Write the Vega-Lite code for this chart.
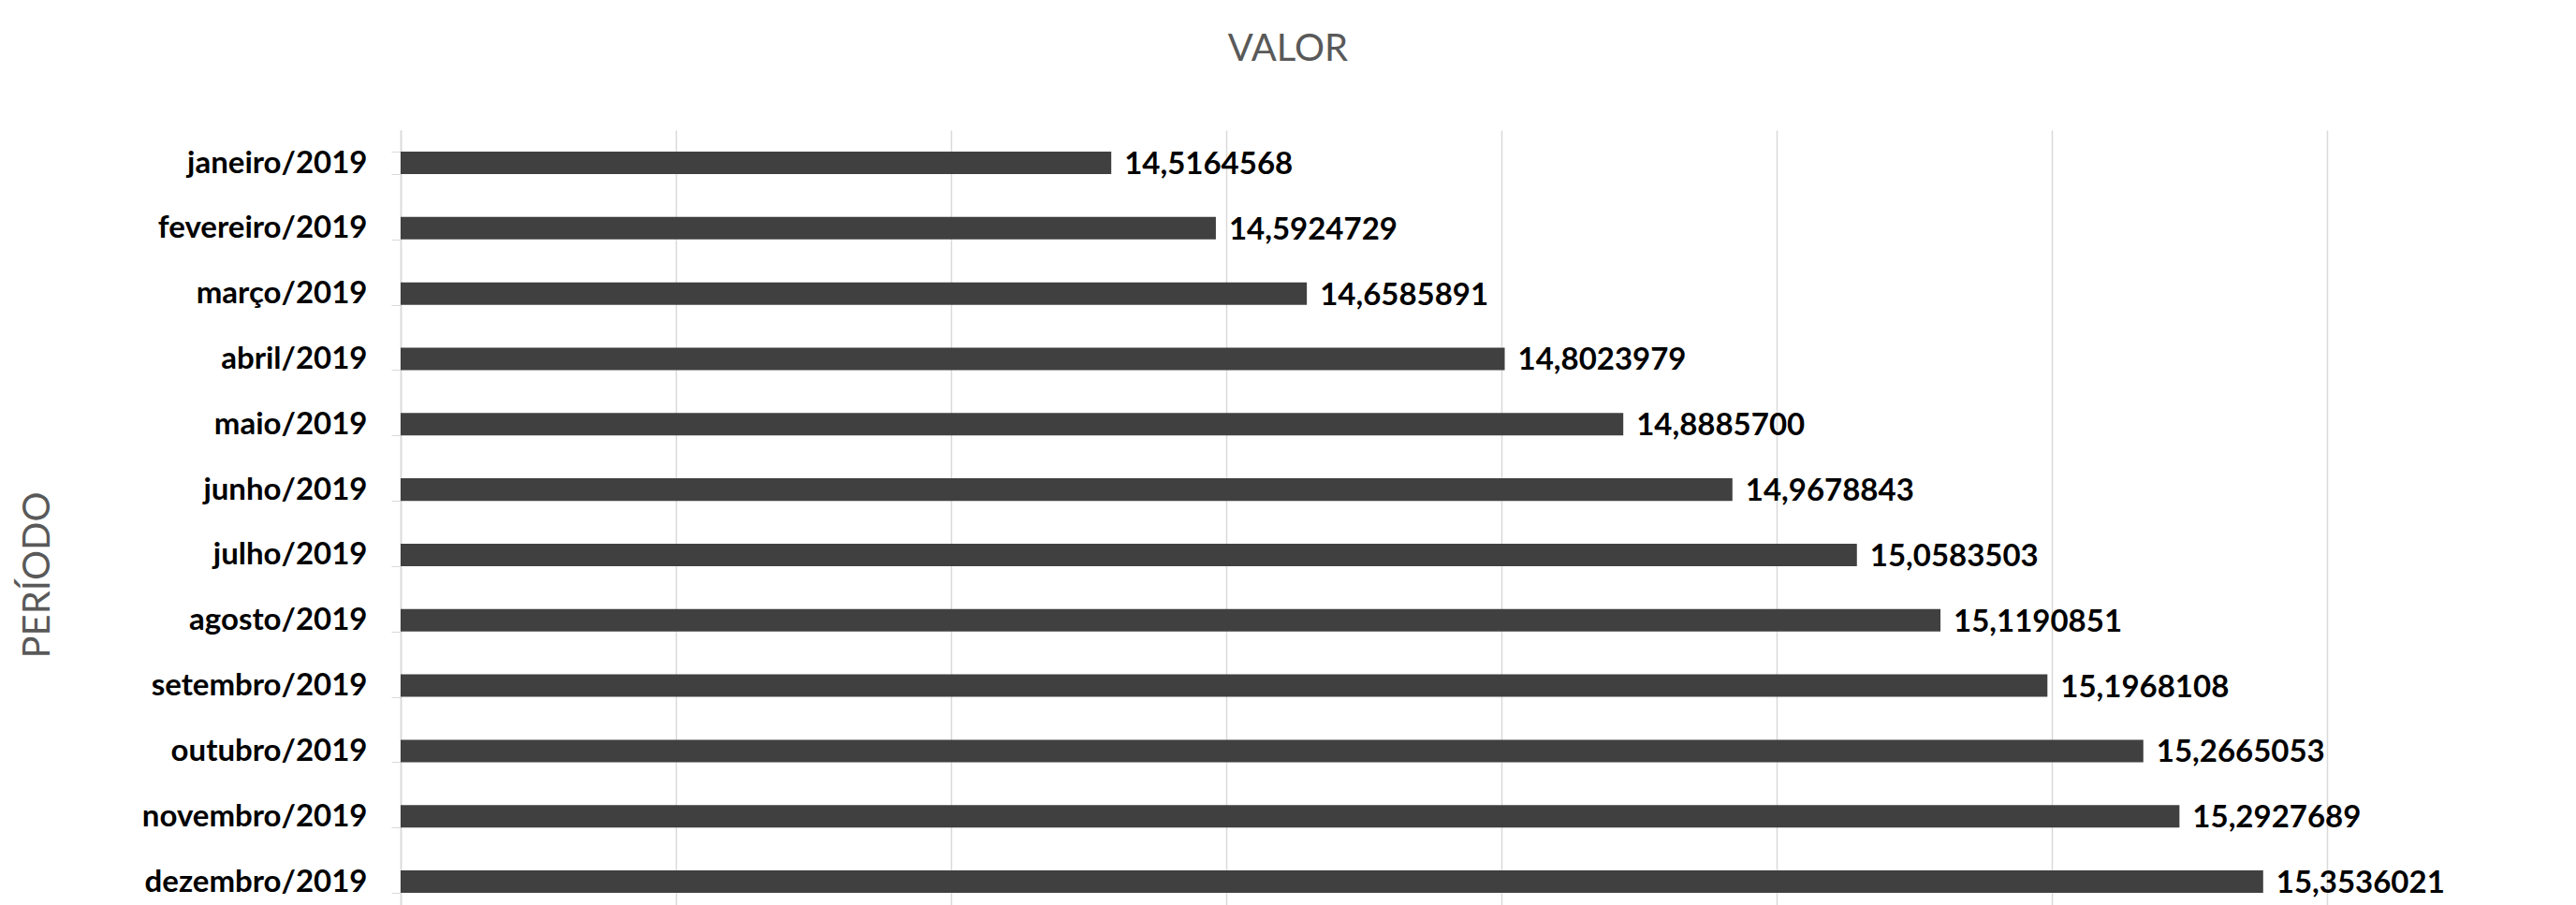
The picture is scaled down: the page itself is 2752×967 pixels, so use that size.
{
  "$schema": "https://vega.github.io/schema/vega-lite/v6.json",
  "width": 2058,
  "height": 828,
  "autosize": {"type": "none"},
  "padding": {"left": 428, "top": 139, "right": 266, "bottom": 0},
  "background": "white",
  "config": {
    "locale": {"number": {"decimal": ",", "thousands": ".", "grouping": [3], "currency": ["R$", ""]}},
    "view": {"stroke": null},
    "font": "Lato"
  },
  "title": {
    "text": "VALOR",
    "font": "Lato",
    "fontSize": 40,
    "fontWeight": "normal",
    "color": "#595959",
    "anchor": "middle",
    "dx": -81,
    "baseline": "alphabetic",
    "offset": 18
  },
  "data": {
    "values": [
      {"periodo": "janeiro/2019", "valor": 14.5164568},
      {"periodo": "fevereiro/2019", "valor": 14.5924729},
      {"periodo": "março/2019", "valor": 14.6585891},
      {"periodo": "abril/2019", "valor": 14.8023979},
      {"periodo": "maio/2019", "valor": 14.88857},
      {"periodo": "junho/2019", "valor": 14.9678843},
      {"periodo": "julho/2019", "valor": 15.0583503},
      {"periodo": "agosto/2019", "valor": 15.1190851},
      {"periodo": "setembro/2019", "valor": 15.1968108},
      {"periodo": "outubro/2019", "valor": 15.2665053},
      {"periodo": "novembro/2019", "valor": 15.2927689},
      {"periodo": "dezembro/2019", "valor": 15.3536021}
    ]
  },
  "encoding": {
    "y": {
      "field": "periodo",
      "type": "nominal",
      "sort": null,
      "scale": {"paddingInner": 0.656, "paddingOuter": 0.2575, "align": 0.64},
      "axis": {
        "title": "PERÍODO",
        "titleFont": "Lato",
        "titleFontSize": 40,
        "titleFontWeight": "normal",
        "titleColor": "#595959",
        "titleAngle": 270,
        "titleX": -388,
        "titleY": 475,
        "titleAlign": "center",
        "titleBaseline": "middle",
        "labelFont": "Lato",
        "labelFontSize": 33,
        "labelFontWeight": "bold",
        "labelColor": "#000000",
        "labelPadding": 26,
        "labelLimit": 400,
        "tickSize": 10,
        "tickColor": "#d9d9d9",
        "tickBand": "extent",
        "domainColor": "#d9d9d9",
        "domainWidth": 1.5,
        "grid": false
      }
    }
  },
  "layer": [
    {
      "mark": {"type": "bar", "color": "#404040"},
      "encoding": {
        "x": {
          "field": "valor",
          "type": "quantitative",
          "scale": {"domain": [14, 15.4], "zero": false, "nice": false},
          "axis": {
            "title": null,
            "labels": false,
            "ticks": false,
            "domain": false,
            "grid": true,
            "gridColor": "#d9d9d9",
            "gridWidth": 1.5,
            "values": [14, 14.2, 14.4, 14.6, 14.8, 15, 15.2, 15.4]
          }
        },
        "x2": {"datum": 14}
      }
    },
    {
      "mark": {"type": "text", "align": "left", "baseline": "middle", "dx": 14, "dy": 2, "font": "Lato", "fontSize": 33, "fontWeight": "bold", "color": "#000000"},
      "encoding": {
        "x": {"field": "valor", "type": "quantitative"},
        "text": {"field": "valor", "type": "quantitative", "format": ".7f"}
      }
    }
  ]
}
